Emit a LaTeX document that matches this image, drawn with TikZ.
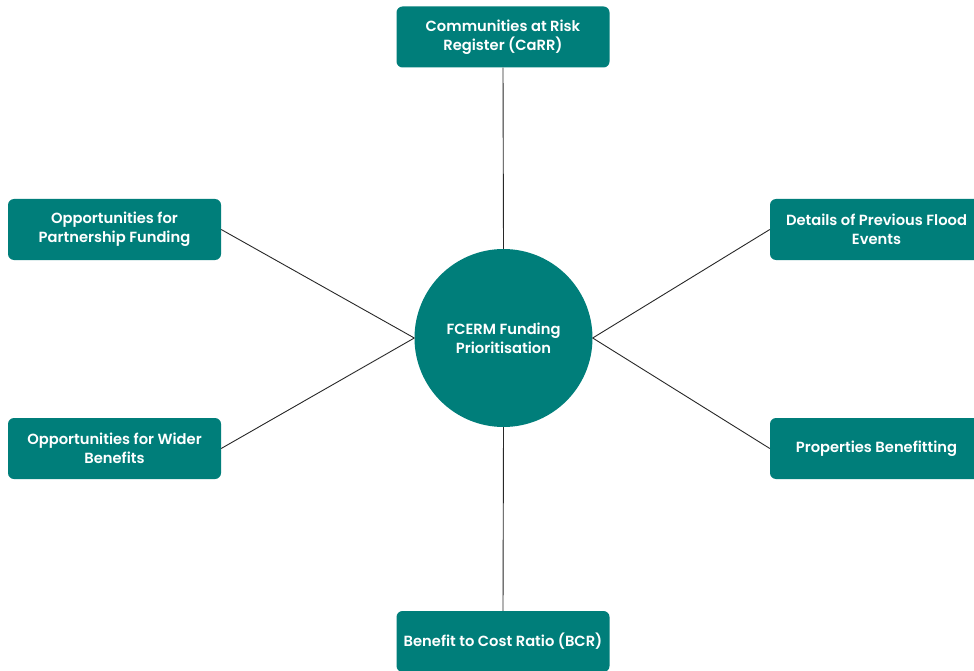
\documentclass[tikz,border=0pt]{standalone}
\usepackage{fontspec}
\setmainfont{Poppins}[BoldFont={Poppins SemiBold}]
\definecolor{teal1}{RGB}{0,126,122}
\definecolor{linec}{RGB}{40,40,40}
\begin{document}
\begin{tikzpicture}[x=1pt,y=-1pt,
  box/.style={fill=teal1, rounded corners=6pt, minimum width=213pt, minimum height=61pt, inner sep=0pt, text=white, font=\fontsize{14.7}{19}\selectfont\bfseries, align=center},
  hub/.style={circle, fill=teal1, minimum size=178pt, inner sep=0pt, text=white, font=\fontsize{14.7}{19}\selectfont\bfseries, align=center},
  conn/.style={draw=linec, line width=0.9pt}]
\useasboundingbox (0,0) rectangle (974,671);
\clip (0,0) rectangle (974,671);
\fill[white] (0,0) rectangle (974,671);
\node[hub] (c) at (503.5,338) {FCERM Funding\\Prioritisation};
\node[box] (top) at (503,37) {Communities at Risk\\Register (CaRR)};
\node[box] (lt) at (114.5,229.5) {Opportunities for\\Partnership Funding};
\node[box] (lb) at (114.5,448.5) {Opportunities for Wider\\Benefits};
\node[box] (rt) at (876.5,229.5) {Details of Previous Flood\\Events};
\node[box] (rb) at (876.5,448.5) {Properties Benefitting};
\node[box] (bot) at (503,641.5) {Benefit to Cost Ratio (BCR)};
\draw[conn] (top.south) -- (c.north);
\draw[conn] (bot.north) -- (c.south);
\draw[conn] (lt.east) -- (c.west);
\draw[conn] (lb.east) -- (c.west);
\draw[conn] (rt.west) -- (c.east);
\draw[conn] (rb.west) -- (c.east);
\end{tikzpicture}
\end{document}
